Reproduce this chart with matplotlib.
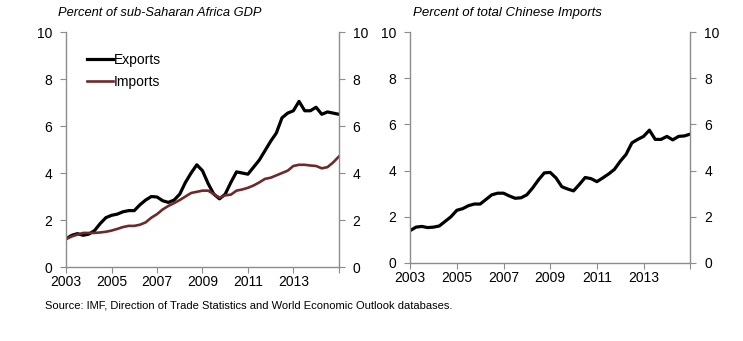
import matplotlib.pyplot as plt
import numpy as np

plt.rcParams['font.family'] = ['Liberation Sans', 'DejaVu Sans']

# quarterly points, 2003Q1 .. 2015Q1
quarters = np.arange(2003, 2015.01, 0.25)

ssa_exports = [1.2, 1.35, 1.42, 1.35, 1.4, 1.55, 1.85, 2.1, 2.2, 2.25, 2.35, 2.4, 2.4,
               2.65, 2.85, 3.0, 2.98, 2.82, 2.75, 2.85, 3.1, 3.6, 4.0, 4.35, 4.1,
               3.55, 3.1, 2.9, 3.1, 3.6, 4.05, 4.0, 3.95, 4.25, 4.55, 4.95, 5.35,
               5.7, 6.35, 6.55, 6.65, 7.05, 6.65, 6.65, 6.8, 6.5, 6.6, 6.55, 6.5]
ssa_imports = [1.2, 1.3, 1.38, 1.45, 1.45, 1.45, 1.47, 1.5, 1.55, 1.62, 1.7, 1.75, 1.75,
               1.8, 1.9, 2.1, 2.25, 2.45, 2.6, 2.72, 2.85, 3.0, 3.15, 3.2, 3.25,
               3.25, 3.1, 2.95, 3.05, 3.08, 3.25, 3.3, 3.37, 3.47, 3.6, 3.75, 3.8,
               3.9, 4.0, 4.1, 4.3, 4.35, 4.35, 4.32, 4.3, 4.2, 4.25, 4.45, 4.7]
china_share = [1.4, 1.55, 1.58, 1.53, 1.55, 1.6, 1.8, 2.0, 2.28, 2.35, 2.48, 2.55, 2.55,
               2.75, 2.95, 3.02, 3.02, 2.9, 2.8, 2.82, 2.95, 3.25, 3.6, 3.9, 3.92,
               3.68, 3.3, 3.2, 3.12, 3.4, 3.7, 3.65, 3.52, 3.68, 3.85, 4.05, 4.4,
               4.7, 5.2, 5.35, 5.48, 5.75, 5.35, 5.35, 5.48, 5.33, 5.48, 5.5, 5.58]

year_ticks = [2003, 2005, 2007, 2009, 2011, 2013, 2015]
year_labels = ['2003', '2005', '2007', '2009', '2011', '2013', '']
y_ticks = [0, 2, 4, 6, 8, 10]

gray = '#8c8c8c'


def style_axes(ax):
    ax.set_xlim(2003, 2015)
    ax.set_ylim(0, 10)
    ax.set_xticks(year_ticks)
    ax.set_xticklabels(year_labels)
    ax.set_yticks(y_ticks)
    ax.spines['top'].set_visible(False)
    for s in ['left', 'right', 'bottom']:
        ax.spines[s].set_color(gray)
        ax.spines[s].set_linewidth(1.0)
    ax.tick_params(axis='both', direction='out', length=4, color=gray,
                   labelsize=10, pad=2)
    ax.tick_params(axis='y', right=True, labelright=True, pad=6)


fig = plt.figure(figsize=(7.43, 3.41), dpi=100)
ax1 = fig.add_axes([0.089, 0.217, 0.367, 0.689])
ax2 = fig.add_axes([0.552, 0.229, 0.377, 0.677])

ax1.plot(quarters, ssa_exports, color='black', lw=2.3, label='Exports')
ax1.plot(quarters, ssa_imports, color='#6e2a2a', lw=1.9, label='Imports')
style_axes(ax1)
ax1.legend(loc='upper left', bbox_to_anchor=(0.055, 0.935), frameon=False,
           fontsize=10, handlelength=1.9, handletextpad=0.05, labelspacing=0.55,
           borderaxespad=0)

ax2.plot(quarters, china_share, color='black', lw=2.3)
style_axes(ax2)

fig.text(0.078, 0.962, 'Percent of sub-Saharan Africa GDP', fontsize=9.3,
         style='italic', va='center')
fig.text(0.556, 0.962, 'Percent of total Chinese Imports', fontsize=9.5,
         style='italic', va='center')
fig.text(0.061, 0.105, 'Source: IMF, Direction of Trade Statistics and World Economic Outlook databases.',
         fontsize=8, va='center', family=['Liberation Sans Narrow', 'Liberation Sans'])

plt.savefig('out.png', dpi=100)
